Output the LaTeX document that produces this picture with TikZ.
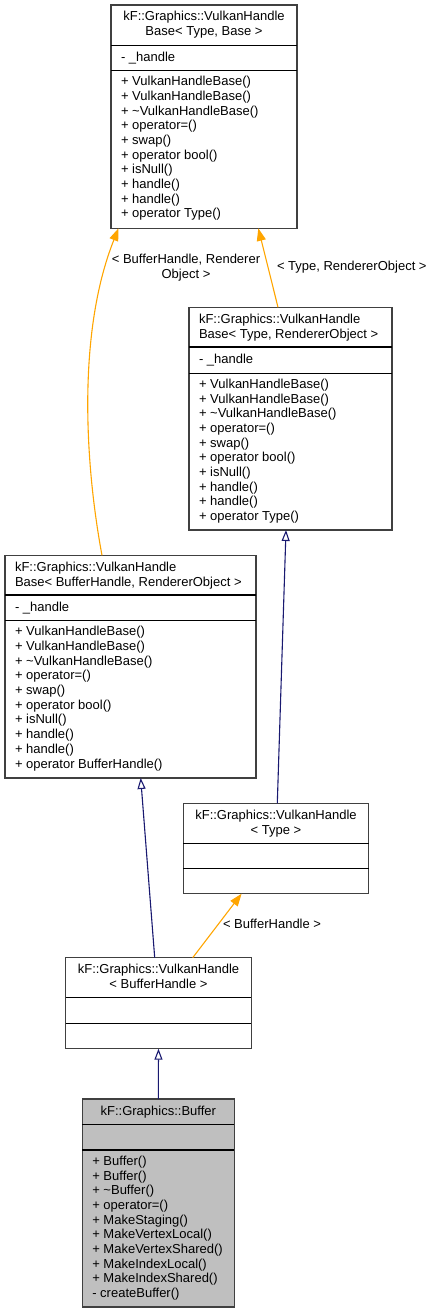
\documentclass[tikz,border=0pt]{standalone}
\usepackage{fontspec}
\setmainfont{Liberation Sans}
\usetikzlibrary{arrows.meta}
\definecolor{tmplc}{HTML}{FFA500}
\definecolor{inhc}{HTML}{191970}
\definecolor{boxc}{HTML}{404040}
\definecolor{fillc}{HTML}{BFBFBF}
\newcommand\dfont{\fontsize{13}{14.7}\selectfont}
\newcommand\fl{\rule{0pt}{12pt}}
\tikzset{
  cls/.style={draw=boxc, line width=1.1pt, inner sep=0pt, outer sep=0pt, anchor=north west},
  sepl/.style={draw=black, line width=1.1pt},
  txt/.style={font=\dfont, inner sep=0pt, outer sep=0pt, align=left, anchor=north west},
  ctxt/.style={font=\dfont, inner sep=0pt, outer sep=0pt, align=center, anchor=north},
  tmpl/.style={draw=tmplc, line width=1.1pt, -{Triangle[length=12.5pt,width=9pt]}},
  inh/.style={draw=inhc, line width=1.1pt, -{Triangle[open,length=11pt,width=8pt]}},
}
\begin{document}
\begin{tikzpicture}[x=1pt, y=-1pt]
\useasboundingbox (0,0) rectangle (433,1313);
% ---- Box A
\node[cls, minimum width=186pt, minimum height=223.3pt] (A) at (111,5) {};
\draw[sepl] ([yshift=-40.7pt]A.north west) -- ([yshift=-40.7pt]A.north east);
\draw[sepl] ([yshift=-65.7pt]A.north west) -- ([yshift=-65.7pt]A.north east);
\node[ctxt] (At) at (204,9) {\fl kF::Graphics::VulkanHandle\\Base< Type, Base >};
\node[txt] (Aa) at (121,50) {\fl - \_handle};
\node[txt] (Am) at (121,73.7) {\fl + VulkanHandleBase()\\+ VulkanHandleBase()\\+ \textasciitilde VulkanHandleBase()\\+ operator=()\\+ swap()\\+ operator bool()\\+ isNull()\\+ handle()\\+ handle()\\+ operator Type()};
% ---- Box B
\node[cls, minimum width=203pt, minimum height=222.7pt] (B) at (189,307.3) {};
\draw[sepl] ([yshift=-39.7pt]B.north west) -- ([yshift=-39.7pt]B.north east);
\draw[sepl] ([yshift=-66pt]B.north west) -- ([yshift=-66pt]B.north east);
\node[txt] (Bt) at (199,311.3) {\fl kF::Graphics::VulkanHandle\\Base< Type, RendererObject >};
\node[txt] (Ba) at (199,351.5) {\fl - \_handle};
\node[txt] (Bm) at (199,376.3) {\fl + VulkanHandleBase()\\+ VulkanHandleBase()\\+ \textasciitilde VulkanHandleBase()\\+ operator=()\\+ swap()\\+ operator bool()\\+ isNull()\\+ handle()\\+ handle()\\+ operator Type()};
% ---- Box C
\node[cls, minimum width=251pt, minimum height=222.7pt] (C) at (5,555.3) {};
\draw[sepl] ([yshift=-39.7pt]C.north west) -- ([yshift=-39.7pt]C.north east);
\draw[sepl] ([yshift=-65.4pt]C.north west) -- ([yshift=-65.4pt]C.north east);
\node[txt] (Ct) at (15,559.3) {\fl kF::Graphics::VulkanHandle\\Base< BufferHandle, RendererObject >};
\node[txt] (Ca) at (15,599.5) {\fl - \_handle};
\node[txt] (Cm) at (15,623.7) {\fl + VulkanHandleBase()\\+ VulkanHandleBase()\\+ \textasciitilde VulkanHandleBase()\\+ operator=()\\+ swap()\\+ operator bool()\\+ isNull()\\+ handle()\\+ handle()\\+ operator BufferHandle()};
% ---- Box D
\node[cls, minimum width=185.4pt, minimum height=90.4pt] (D) at (183.3,803.3) {};
\draw[sepl] ([yshift=-40pt]D.north west) -- ([yshift=-40pt]D.north east);
\draw[sepl] ([yshift=-65pt]D.north west) -- ([yshift=-65pt]D.north east);
\node[ctxt] (Dt) at (276,807.3) {\fl kF::Graphics::VulkanHandle\\< Type >};
% ---- Box E
\node[cls, minimum width=185.6pt, minimum height=91pt] (E) at (65.7,957.7) {};
\draw[sepl] ([yshift=-40pt]E.north west) -- ([yshift=-40pt]E.north east);
\draw[sepl] ([yshift=-65.6pt]E.north west) -- ([yshift=-65.6pt]E.north east);
\node[ctxt] (Et) at (158.5,961.7) {\fl kF::Graphics::VulkanHandle\\< BufferHandle >};
% ---- Box F
\node[cls, fill=fillc, minimum width=152pt, minimum height=208pt] (F) at (82.3,1099) {};
\draw[sepl] ([yshift=-25.7pt]F.north west) -- ([yshift=-25.7pt]F.north east);
\draw[sepl] ([yshift=-51pt]F.north west) -- ([yshift=-51pt]F.north east);
\node[ctxt] (Ft) at (158.3,1103) {\fl kF::Graphics::Buffer};
\node[txt] (Fm) at (92.3,1153.3) {\fl + Buffer()\\+ Buffer()\\+ \textasciitilde Buffer()\\+ operator=()\\+ MakeStaging()\\+ MakeVertexLocal()\\+ MakeVertexShared()\\+ MakeIndexLocal()\\+ MakeIndexShared()\\- createBuffer()};
% ---- Edges
\draw[tmpl] ([xshift=97pt]C.north west) .. controls (86,470) and (76,335) .. ([xshift=7.5pt]A.south west);
\node[ctxt] (L1) at (186,251.5) {\fl < BufferHandle, Renderer\\Object >};
\draw[tmpl] ([xshift=89pt]B.north west) -- ([xshift=147.3pt]A.south west);
\node[txt] (L2) at (277,258.5) {\fl < Type, RendererObject >};
\draw[inh] ([xshift=94pt]D.north west) -- ([xshift=97pt]B.south west);
\draw[inh] ([xshift=89pt]E.north west) -- ([xshift=135.7pt]C.south west);
\draw[tmpl] ([xshift=127pt]E.north west) -- ([xshift=58.3pt]D.south west);
\node[txt] (L3) at (223,916) {\fl < BufferHandle >};
\draw[inh] (F.north) -- (E.south);
\end{tikzpicture}
\end{document}
